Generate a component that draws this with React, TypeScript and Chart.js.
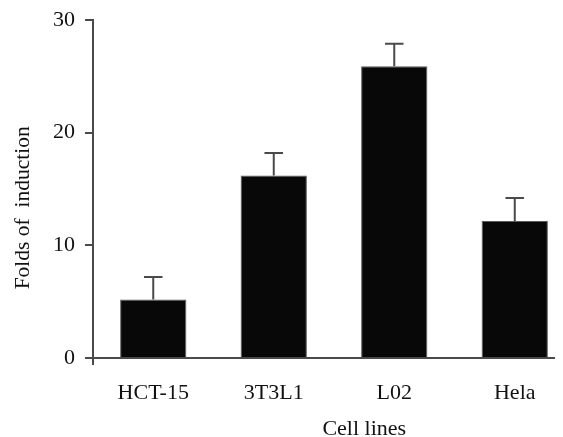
import React, { useEffect, useRef } from 'react';
import { Chart, registerables } from 'chart.js';

Chart.register(...registerables);

const categories = ['HCT-15', '3T3L1', 'L02', 'Hela'];
const values = [5.2, 16.2, 25.9, 12.15];
const errors = [2.0, 2.0, 2.0, 2.05];
const yMin = 0;
const yMax = 30;
const yStep = 10;
const yTitle = 'Folds of  induction' + '       ';
const xTitle = '           ' + 'Cell lines';

const FONT = { family: '"Liberation Serif", "Times New Roman", serif', size: 22 };
const TITLE_FONT = { family: '"Liberation Serif", "Times New Roman", serif', size: 21.5 };
const TEXT = '#111111';
const AXIS = '#4a4a4a';

const errorBarPlugin = {
  id: 'errorBars',
  afterDatasetsDraw(chart: any) {
    const { ctx, chartArea } = chart;
    const meta = chart.getDatasetMeta(0);
    const yScale = chart.scales.y;
    ctx.save();
    ctx.strokeStyle = AXIS;
    ctx.lineWidth = 2;
    meta.data.forEach((bar: any, i: number) => {
      const x = bar.x;
      const yTop = bar.y;
      const yErr = yScale.getPixelForValue(values[i] + errors[i]);
      const half = bar.width * 0.14;
      ctx.beginPath();
      ctx.moveTo(x, yTop);
      ctx.lineTo(x, yErr);
      ctx.moveTo(x - half, yErr);
      ctx.lineTo(x + half, yErr);
      ctx.stroke();
    });
    // small extension of the y axis below the x axis
    ctx.beginPath();
    ctx.moveTo(chartArea.left, chartArea.bottom);
    ctx.lineTo(chartArea.left, chartArea.bottom + 7);
    ctx.stroke();
    ctx.restore();
  },
};

export default function App() {
  const ref = useRef<HTMLCanvasElement | null>(null);

  useEffect(() => {
    document.documentElement.style.overflow = 'hidden';
    if (!ref.current) return;
    const chart = new Chart(ref.current, {
      type: 'bar',
      data: {
        labels: categories,
        datasets: [
          {
            data: values,
            backgroundColor: '#080808',
            borderColor: '#5a5a5a',
            borderWidth: 1,
            barPercentage: 0.55,
            categoryPercentage: 1,
          },
        ],
      },
      options: {
        animation: false,
        responsive: false,
        layout: { padding: { left: 0, right: 8, top: 12, bottom: 0 } },
        plugins: { legend: { display: false }, tooltip: { enabled: false } },
        scales: {
          x: {
            grid: { display: false, drawTicks: false },
            border: { display: true, color: AXIS, width: 2 },
            ticks: { font: FONT, color: TEXT, padding: 22 },
            title: {
              display: true,
              text: xTitle,
              font: FONT,
              color: TEXT,
              padding: { top: 0, bottom: 6 },
            },
            afterFit: (s: any) => {
              s.height = 90;
            },
          },
          y: {
            min: yMin,
            max: yMax,
            ticks: { stepSize: yStep, font: FONT, color: TEXT, padding: 10 },
            grid: {
              drawOnChartArea: false,
              drawTicks: true,
              tickLength: 8,
              color: AXIS,
              lineWidth: 2,
            },
            border: { display: true, color: AXIS, width: 2 },
            title: {
              display: true,
              text: yTitle,
              font: TITLE_FONT,
              color: TEXT,
              padding: { top: 2, bottom: 0 },
            },
            afterFit: (s: any) => {
              s.width = 85;
              s.paddingTop = 0;
              s.paddingBottom = 0;
            },
          },
        },
      },
      plugins: [errorBarPlugin],
    });
    return () => chart.destroy();
  }, []);

  return (
    <div style={{ width: 575, height: 440, overflow: 'hidden' }}>
      <canvas ref={ref} width={575} height={440} style={{ display: 'block' }} />
    </div>
  );
}
